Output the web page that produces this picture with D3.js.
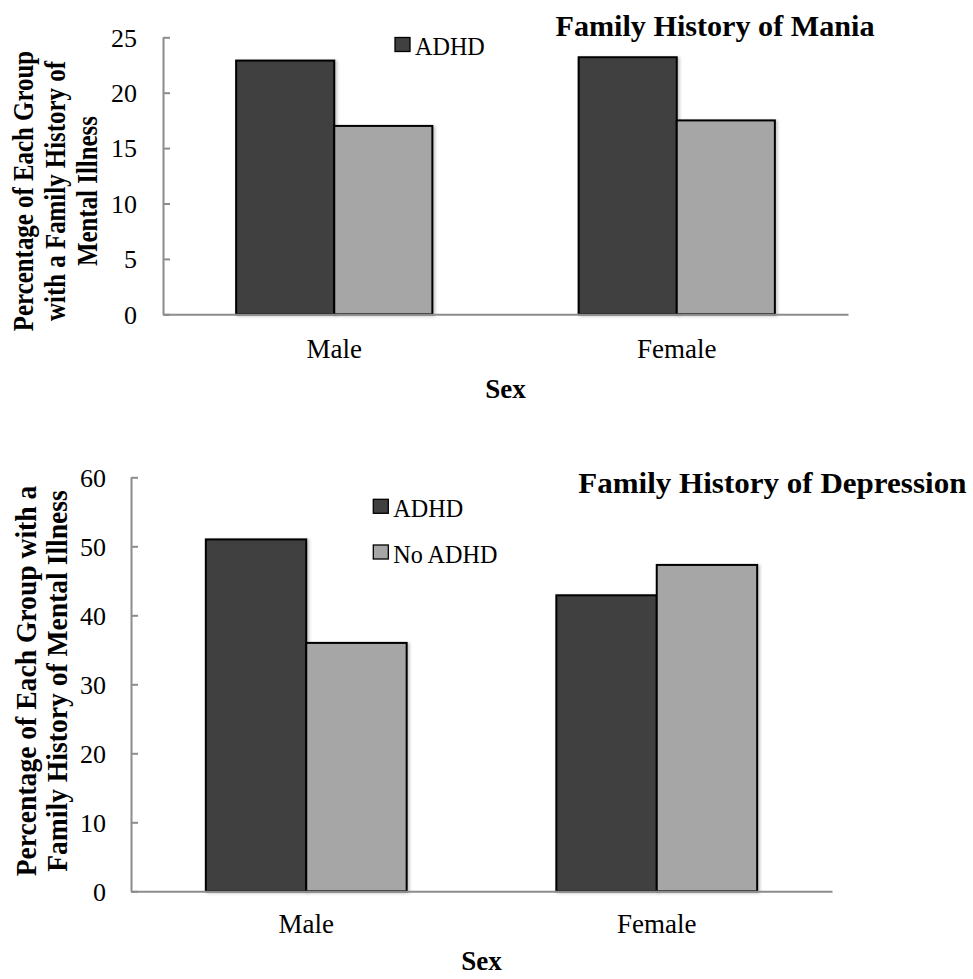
<!DOCTYPE html>
<html><head><meta charset="utf-8">
<script src="https://cdn.jsdelivr.net/npm/d3@7"></script>
<style>
body{margin:0;background:#fff}
svg{display:block}
</style>
</head><body>
<svg id="c" width="973" height="979"></svg>
<script>
// ---- data ----
const categories = ["Male", "Female"];
const seriesNames = ["ADHD", "No ADHD"];
const maniaADHD = [22.9, 23.2];
const maniaNoADHD = [17.0, 17.5];
const depressionADHD = [51.0, 42.9];
const depressionNoADHD = [36.0, 47.3];
const maniaTicks = [0, 5, 10, 15, 20, 25];
const depressionTicks = [0, 10, 20, 30, 40, 50, 60];
const maniaTitle = "Family History of Mania";
const depressionTitle = "Family History of Depression";
const maniaYTitle = ["Percentage of Each Group", "with a Family History of", "Mental Illness"];
const depressionYTitle = ["Percentage of Each Group with a", "Family History of Mental Illness"];
const xTitle = "Sex";
const seriesColors = ["#404040", "#a6a6a6"];

const FONT = '"Liberation Serif","Times New Roman",serif';
const AXIS_GRAY = "#8c8c8c";

const svg = d3.select("#c");
const defs = svg.append("defs");
defs.append("filter").attr("id", "sh")
  .attr("x", "-10%").attr("y", "-10%").attr("width", "130%").attr("height", "125%")
  .append("feDropShadow").attr("dx", 2).attr("dy", 1).attr("stdDeviation", 1.6)
  .attr("flood-color", "#000").attr("flood-opacity", 0.22);

function txt(g, s, x, y, o) {
  o = o || {};
  const t = g.append("text")
    .attr("transform", `translate(${x},${y})` + (o.rot ? ` rotate(${o.rot})` : "") + ` scale(${o.sx || 1},1)`)
    .attr("text-anchor", o.anchor || "start")
    .style("font-family", FONT)
    .style("font-size", (o.size || 26) + "px")
    .style("font-weight", o.bold ? "bold" : "normal")
    .attr("fill", "#000")
    .text(s);
  return t;
}

function drawChart(cfg) {
  const g = svg.append("g");
  const x = d3.scaleBand().domain(categories).range([cfg.x0, cfg.x1])
    .paddingInner(0.427).paddingOuter(0.2135);
  const xs = d3.scaleBand().domain(seriesNames).range([0, x.bandwidth()]);
  const y = d3.scaleLinear().domain([0, cfg.max]).range([cfg.y1, cfg.y0]);

  // y axis
  const ya = g.append("g").attr("transform", `translate(${cfg.x0},0)`)
    .call(d3.axisLeft(y).tickValues(cfg.ticks).tickSizeInner(-7).tickSizeOuter(0).tickPadding(cfg.tickPad));
  ya.attr("font-family", null).attr("font-size", null);
  ya.select(".domain").attr("stroke", AXIS_GRAY).attr("stroke-width", 2);
  ya.selectAll(".tick line").attr("stroke", AXIS_GRAY).attr("stroke-width", 2);
  ya.selectAll(".tick text").style("font-family", FONT).style("font-size", "26px")
    .attr("fill", "#000").attr("dy", "0.34em");

  // bars
  const data = [];
  categories.forEach((c, i) => {
    cfg.series.forEach((vals, j) => data.push({ c, s: seriesNames[j], v: vals[i], j }));
  });
  g.append("g").selectAll("rect").data(data).join("rect")
    .attr("x", d => x(d.c) + xs(d.s))
    .attr("width", xs.bandwidth())
    .attr("y", d => y(d.v))
    .attr("height", d => y(0) - y(d.v))
    .attr("fill", d => seriesColors[d.j])
    .attr("stroke", "#000").attr("stroke-width", 2)
    .attr("filter", "url(#sh)");

  // x axis
  const xa = g.append("g").attr("transform", `translate(0,${cfg.y1})`)
    .call(d3.axisBottom(x).tickSize(0).tickSizeOuter(0).tickPadding(0));
  xa.attr("font-family", null).attr("font-size", null);
  xa.select(".domain").attr("stroke", AXIS_GRAY).attr("stroke-width", 2);
  xa.selectAll(".tick text").style("font-family", FONT).style("font-size", "27px")
    .attr("fill", "#000").attr("y", cfg.catBase - cfg.y1).attr("dy", 0);

  // x title
  txt(g, xTitle, (cfg.x0 + cfg.x1) / 2, cfg.sexBase, { anchor: "middle", bold: true, size: 27 });

  // chart title
  txt(g, cfg.title, cfg.titleX, cfg.titleBase, { anchor: "middle", bold: true, size: cfg.titleSize, sx: cfg.titleSx });

  // y title
  cfg.yTitle.forEach((line, i) => {
    txt(g, line, cfg.yTitleX[i], cfg.yTitleCenter, { anchor: "middle", bold: true, size: 30, rot: -90, sx: cfg.yTitleSx });
  });

  // legend
  cfg.legend.forEach(L => {
    g.append("rect").attr("x", L.x).attr("y", L.y).attr("width", 15).attr("height", 14)
      .attr("fill", seriesColors[L.i]).attr("stroke", "#000").attr("stroke-width", 1.3);
    txt(g, seriesNames[L.i], L.x + 20, L.y + 17.5, { size: 26, sx: 0.93 });
  });
}

drawChart({
  x0: 163, x1: 848, y0: 37.3, y1: 314.3, max: 25, ticks: maniaTicks,
  series: [maniaADHD, maniaNoADHD], tickPad: 26,
  catBase: 358, sexBase: 398,
  title: maniaTitle, titleX: 715, titleBase: 35.5, titleSize: 29, titleSx: 1.04,
  yTitle: maniaYTitle, yTitleX: [33.3, 64.8, 96.5], yTitleCenter: 191, yTitleSx: 0.83,
  legend: [{ i: 0, x: 395, y: 37.5 }]
});

drawChart({
  x0: 131, x1: 832, y0: 477.3, y1: 891.3, max: 60, ticks: depressionTicks,
  series: [depressionADHD, depressionNoADHD], tickPad: 25,
  catBase: 933, sexBase: 970,
  title: depressionTitle, titleX: 772.3, titleBase: 493.3, titleSize: 30, titleSx: 1.035,
  yTitle: depressionYTitle, yTitleX: [36, 66.7], yTitleCenter: 681, yTitleSx: 0.92,
  legend: [{ i: 0, x: 373.3, y: 499.3 }, { i: 1, x: 373.3, y: 545 }]
});
</script>
</body></html>
